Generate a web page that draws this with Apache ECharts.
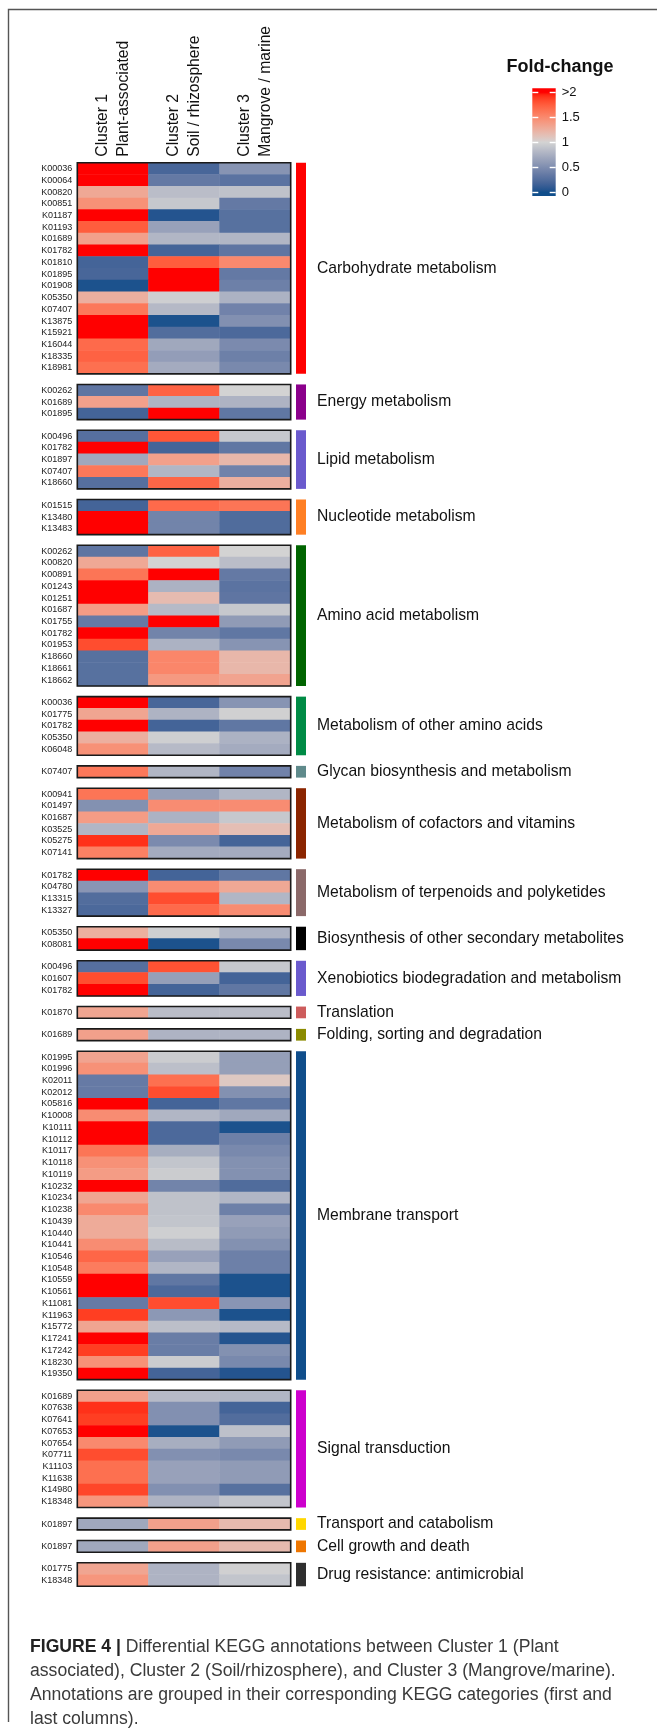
<!DOCTYPE html>
<html>
<head>
	<meta charset="UTF-8">
	<title>KEGG fold-change heatmap</title>
	<script src="https://cdn.jsdelivr.net/npm/echarts@6/dist/echarts.min.js"></script>
	<style>
		html, body { margin: 0; padding: 0; background: #fff; }
		#main { width: 657px; height: 1731px; }
	</style>
</head>
<body>
<div id="main"></div>
<script>
	// column headers (clusters)
	var clusterLabels = ['Cluster 1\nPlant-associated', 'Cluster 2\nSoil / rhizosphere', 'Cluster 3\nMangrove / marine'];

	// KEGG categories (right annotation)
	var categoryNames = [
		'Carbohydrate metabolism', 'Energy metabolism', 'Lipid metabolism', 'Nucleotide metabolism',
		'Amino acid metabolism', 'Metabolism of other amino acids', 'Glycan biosynthesis and metabolism',
		'Metabolism of cofactors and vitamins', 'Metabolism of terpenoids and polyketides',
		'Biosynthesis of other secondary metabolites', 'Xenobiotics biodegradation and metabolism',
		'Translation', 'Folding, sorting and degradation', 'Membrane transport', 'Signal transduction',
		'Transport and catabolism', 'Cell growth and death', 'Drug resistance: antimicrobial'
	];
	var categoryColors = [
		'#FF0000', '#8B008B', '#6A5ACD', '#FF7F24', '#006400', '#008B45', '#5F8A8B', '#8B2500', '#8B6969',
		'#000000', '#6A5ACD', '#CD5C5C', '#8B8B00', '#104E8B', '#CD00CD', '#FFD700', '#EE7600', '#2F2F2F'
	];

	// fold-change per KO: [cluster1, cluster2, cluster3], values >2 shown as 2
	var carbIds = ['K00036','K00064','K00820','K00851','K01187','K01193','K01689','K01782','K01810','K01895','K01908','K05350','K07407','K13875','K15921','K16044','K18335','K18981'];
	var carbFc = [[2,0.2,0.55],[2,0.35,0.3],[1.3,0.85,0.88],[1.45,0.92,0.35],[2,0.05,0.28],[1.75,0.65,0.28],[1.35,0.8,0.8],[2,0.18,0.32],[0.18,1.75,1.5],[0.2,2,0.35],[0.03,2,0.4],[1.25,0.97,0.77],[1.6,0.82,0.42],[2,0.03,0.52],[2,0.25,0.22],[1.68,0.7,0.48],[1.72,0.62,0.4],[1.65,0.72,0.47]];

	var energyIds = ['K00262','K01689','K01895'];
	var energyFc = [[0.32,1.72,1.0],[1.35,0.78,0.78],[0.18,2,0.33]];

	var lipidIds = ['K00496','K01782','K01897','K07407','K18660'];
	var lipidFc = [[0.27,1.78,0.92],[2,0.18,0.33],[0.7,1.35,1.2],[1.6,0.8,0.42],[0.27,1.7,1.25]];

	var nucleoIds = ['K01515','K13480','K13483'];
	var nucleoFc = [[0.18,1.68,1.62],[2,0.43,0.24],[2,0.43,0.24]];

	var aminoIds = ['K00262','K00820','K00891','K01243','K01251','K01687','K01755','K01782','K01953','K18660','K18661','K18662'];
	var aminoFc = [[0.32,1.72,1.0],[1.3,1.0,0.85],[1.62,2,0.35],[2,0.77,0.3],[2,1.17,0.32],[1.38,0.83,0.92],[0.36,2,0.6],[2,0.43,0.33],[1.82,0.77,0.55],[0.28,1.52,1.2],[0.28,1.52,1.2],[0.28,1.4,1.33]];

	var otherAminoIds = ['K00036','K01775','K01782','K05350','K06048'];
	var otherAminoFc = [[2,0.2,0.55],[1.32,0.78,0.98],[2,0.18,0.33],[1.25,0.97,0.77],[1.45,0.83,0.72]];

	var glycanIds = ['K07407'];
	var glycanFc = [[1.6,0.8,0.42]];

	var cofactorIds = ['K00941','K01497','K01687','K03525','K05275','K07141'];
	var cofactorFc = [[1.62,0.63,0.8],[0.53,1.48,1.48],[1.38,0.77,0.92],[0.8,1.3,1.15],[1.92,0.48,0.18],[1.55,0.72,0.72]];

	var terpenoidIds = ['K01782','K04780','K13315','K13327'];
	var terpenoidFc = [[2,0.18,0.33],[0.56,1.48,1.3],[0.25,1.82,0.8],[0.22,1.68,1.48]];

	var secondaryIds = ['K05350','K08081'];
	var secondaryFc = [[1.25,0.97,0.77],[2,0.03,0.47]];

	var xenoIds = ['K00496','K01607','K01782'];
	var xenoFc = [[0.27,1.8,0.92],[1.82,0.63,0.18],[2,0.18,0.33]];

	var translationIds = ['K01870'];
	var translationFc = [[1.32,0.85,0.85]];

	var foldingIds = ['K01689'];
	var foldingFc = [[1.35,0.78,0.78]];

	var membraneIds = ['K01995','K01996','K02011','K02012','K05816','K10008','K10111','K10112','K10117','K10118','K10119','K10232','K10234','K10238','K10439','K10440','K10441','K10546','K10548','K10559','K10561','K11081','K11963','K15772','K17241','K17242','K18230','K19350'];
	var membraneFc = [[1.33,0.95,0.63],[1.45,0.86,0.63],[0.36,1.65,1.08],[0.36,1.82,0.53],[2,0.18,0.33],[1.48,0.8,0.7],[2,0.22,0.03],[2,0.22,0.4],[1.62,0.74,0.47],[1.45,0.9,0.53],[1.38,0.95,0.53],[2,0.43,0.24],[1.32,0.88,0.8],[1.5,0.88,0.4],[1.28,0.9,0.65],[1.28,0.97,0.6],[1.48,0.84,0.53],[1.7,0.65,0.4],[1.58,0.8,0.4],[2,0.33,0.03],[2,0.22,0.03],[0.36,1.82,0.56],[1.88,0.58,0.03],[1.32,0.86,0.83],[2,0.38,0.05],[1.88,0.38,0.53],[1.45,0.95,0.47],[2,0.18,0.05]];

	var signalIds = ['K01689','K07638','K07641','K07653','K07654','K07711','K11103','K11638','K14980','K18348'];
	var signalFc = [[1.35,0.83,0.8],[1.92,0.52,0.18],[1.88,0.52,0.25],[2,0.03,0.87],[1.5,0.74,0.6],[1.82,0.52,0.47],[1.65,0.65,0.6],[1.65,0.65,0.6],[1.85,0.52,0.28],[1.42,0.78,0.9]];

	var catabolismIds = ['K01897'];
	var catabolismFc = [[0.7,1.35,1.18]];

	var cellGrowthIds = ['K01897'];
	var cellGrowthFc = [[0.7,1.35,1.18]];

	var drugIds = ['K01775','K18348'];
	var drugFc = [[1.32,0.78,0.98],[1.42,0.78,0.9]];

	var blockIds = [carbIds, energyIds, lipidIds, nucleoIds, aminoIds, otherAminoIds, glycanIds, cofactorIds, terpenoidIds, secondaryIds, xenoIds, translationIds, foldingIds, membraneIds, signalIds, catabolismIds, cellGrowthIds, drugIds];
	var blockFc = [carbFc, energyFc, lipidFc, nucleoFc, aminoFc, otherAminoFc, glycanFc, cofactorFc, terpenoidFc, secondaryFc, xenoFc, translationFc, foldingFc, membraneFc, signalFc, catabolismFc, cellGrowthFc, drugFc];

	// legend
	var legendTicks = [0, 0.5, 1, 1.5, 2];
	var legendTickLabels = ['0', '0.5', '1', '1.5', '>2'];

	// colour ramp 0 -> 1 -> 2, interpolated in LAB like colorRamp2
	var rampBreaks = [0, 1, 2];
	var rampColors = ['#104E8B', '#D3D3D3', '#FF0000'];

	function toLin(c){ c = c / 255; return c <= 0.04045 ? c / 12.92 : Math.pow((c + 0.055) / 1.055, 2.4); }
	function toSrgb(c){ var v = c <= 0.0031308 ? 12.92 * c : 1.055 * Math.pow(c, 1 / 2.4) - 0.055; return Math.round(Math.max(0, Math.min(1, v)) * 255); }
	function hexToLab(hex){
		var r = toLin(parseInt(hex.substr(1,2),16)), g = toLin(parseInt(hex.substr(3,2),16)), b = toLin(parseInt(hex.substr(5,2),16));
		var x = (0.4124*r + 0.3576*g + 0.1805*b) / 0.95047;
		var y = (0.2126*r + 0.7152*g + 0.0722*b);
		var z = (0.0193*r + 0.1192*g + 0.9505*b) / 1.08883;
		var f = function(t){ return t > 0.008856 ? Math.cbrt(t) : 7.787*t + 16/116; };
		var fx = f(x), fy = f(y), fz = f(z);
		return [116*fy - 16, 500*(fx - fy), 200*(fy - fz)];
	}
	function labToHex(lab){
		var fy = (lab[0] + 16) / 116, fx = fy + lab[1] / 500, fz = fy - lab[2] / 200;
		var inv = function(t){ var t3 = t*t*t; return t3 > 0.008856 ? t3 : (t - 16/116) / 7.787; };
		var x = 0.95047*inv(fx), y = inv(fy), z = 1.08883*inv(fz);
		var r = 3.2406*x - 1.5372*y - 0.4986*z;
		var g = -0.9689*x + 1.8758*y + 0.0415*z;
		var b = 0.0557*x - 0.2040*y + 1.0570*z;
		var h = function(v){ var s = toSrgb(v).toString(16); return s.length < 2 ? '0' + s : s; };
		return '#' + h(r) + h(g) + h(b);
	}
	function rampColor(v){
		v = Math.max(rampBreaks[0], Math.min(rampBreaks[2], v));
		var k = v <= rampBreaks[1] ? 0 : 1;
		var t = (v - rampBreaks[k]) / (rampBreaks[k+1] - rampBreaks[k]);
		var a = hexToLab(rampColors[k]), b = hexToLab(rampColors[k+1]);
		return labToHex([a[0] + (b[0]-a[0])*t, a[1] + (b[1]-a[1])*t, a[2] + (b[2]-a[2])*t]);
	}
	var rampStops = [];
	for (var s = 0; s <= 40; s++) rampStops.push(rampColor(s * 0.05));

	// layout
	var heatLeft = 77.3, heatWidth = 213.4, firstTop = 162.7, rowH = 11.73, blockGap = 10.6;
	var annoLeft = 296, annoWidth = 10;
	var labelFont = 15.7;

	var grids = [], xAxes = [], yAxes = [], series = [], heatIdx = [];
	var cursor = firstTop;
	for (var i = 0; i < blockIds.length; i++) {
		var ids = blockIds[i], fc = blockFc[i];
		var h = ids.length * rowH;
		var data = [];
		for (var r = 0; r < ids.length; r++)
			for (var c = 0; c < 3; c++) data.push([c, r, Math.min(2, fc[r][c])]);

		// heatmap block
		grids.push({left: heatLeft, top: cursor, width: heatWidth, height: h, show: true,
			backgroundColor: 'transparent', borderColor: '#1a1a1a', borderWidth: 1.6, z: 5});
		xAxes.push({gridIndex: grids.length - 1, type: 'category', data: clusterLabels, position: 'top',
			show: i === 0, axisLine: {show: false}, axisTick: {show: false}, splitLine: {show: false},
			axisLabel: {rotate: -90, interval: 0, fontSize: labelFont, lineHeight: 21, margin: 6, color: '#111'}});
		yAxes.push({gridIndex: grids.length - 1, type: 'category', data: ids, inverse: true,
			axisLine: {show: false}, axisTick: {show: false}, splitLine: {show: false},
			axisLabel: {interval: 0, fontSize: 9, margin: 5, color: '#222'}});
		heatIdx.push(series.length);
		series.push({type: 'heatmap', xAxisIndex: xAxes.length - 1, yAxisIndex: yAxes.length - 1,
			data: data, itemStyle: {borderWidth: 0}, emphasis: {disabled: true}});

		// category annotation bar + name
		grids.push({left: annoLeft, top: cursor, width: annoWidth, height: h});
		xAxes.push({gridIndex: grids.length - 1, type: 'value', min: 0, max: 1, show: false});
		yAxes.push({gridIndex: grids.length - 1, type: 'category', data: [categoryNames[i]], show: false});
		series.push({type: 'bar', xAxisIndex: xAxes.length - 1, yAxisIndex: yAxes.length - 1,
			data: [1], barWidth: '100%', silent: true,
			itemStyle: {color: categoryColors[i]},
			label: {show: true, position: 'right', distance: 11, formatter: '{b}', fontSize: labelFont, color: '#111'}});

		cursor += h + blockGap;
	}

	// legend colour bar
	var legMin = -0.074, legMax = 2.08;
	grids.push({left: 532.3, top: 88.3, width: 23.4, height: 107.7});
	var legGrid = grids.length - 1;
	xAxes.push({gridIndex: legGrid, type: 'category', data: ['fc'], show: false});
	var legX = xAxes.length - 1;
	yAxes.push({gridIndex: legGrid, type: 'value', min: legMin, max: legMax, position: 'right', z: 10,
		axisLine: {show: false}, splitLine: {show: false},
		axisTick: {show: true, inside: true, length: 6, customValues: legendTicks, lineStyle: {color: '#fff', width: 1.4}},
		axisLabel: {customValues: legendTicks, margin: 6, fontSize: 13, color: '#111',
			formatter: function(v){ return legendTickLabels[legendTicks.indexOf(v)]; }}});
	var legY = yAxes.length - 1;
	yAxes.push({gridIndex: legGrid, type: 'value', min: legMin, max: legMax, position: 'left', z: 10,
		axisLine: {show: false}, splitLine: {show: false}, axisLabel: {show: false},
		axisTick: {show: true, inside: true, length: 6, customValues: legendTicks, lineStyle: {color: '#fff', width: 1.4}}});

	var gradStops = rampStops.map(function(col, k){
		return {offset: (k * 0.05 - legMin) / (legMax - legMin), color: col};
	});
	gradStops.unshift({offset: 0, color: rampStops[0]});
	gradStops.push({offset: 1, color: rampStops[rampStops.length - 1]});
	series.push({type: 'custom', xAxisIndex: legX, yAxisIndex: legY, silent: true, data: [[0, 1]],
		renderItem: function(params, api){
			var top = api.coord([0, legMax]), bot = api.coord([0, legMin]);
			var cs = params.coordSys;
			return {type: 'rect', shape: {x: cs.x, y: top[1], width: cs.width, height: bot[1] - top[1]},
				style: {fill: new echarts.graphic.LinearGradient(0, 1, 0, 0, gradStops)}};
		}});

	var caption = '{b|FIGURE 4 |} Differential KEGG annotations between Cluster 1 (Plant\n' +
		'associated), Cluster 2 (Soil/rhizosphere), and Cluster 3 (Mangrove/marine).\n' +
		'Annotations are grouped in their corresponding KEGG categories (first and\n' +
		'last columns).';

	var myChart = echarts.init(document.getElementById('main'));
	myChart.setOption({
		animation: false,
		backgroundColor: '#fff',
		textStyle: {fontFamily: 'Liberation Sans, Arial, sans-serif'},
		title: {
			text: caption, left: 25, top: 1630,
			textStyle: {fontSize: 17.6, fontWeight: 'normal', color: '#3a3a3a', lineHeight: 24,
				rich: {b: {fontSize: 17.6, fontWeight: 'bold', color: '#222', lineHeight: 24}}}
		},
		graphic: [
			{type: 'polyline', silent: true, shape: {points: [[8.5, 1722], [8.5, 9.5], [660, 9.5]]},
				style: {stroke: '#555', lineWidth: 1.4, fill: null}},
			{type: 'text', silent: true, x: 560, y: 67,
				style: {text: 'Fold-change', fontSize: 18, fontWeight: 'bold', fill: '#111',
					align: 'center', verticalAlign: 'middle', fontFamily: 'Liberation Sans, Arial, sans-serif'}}
		],
		visualMap: {type: 'continuous', show: false, min: 0, max: 2, seriesIndex: heatIdx,
			inRange: {color: rampStops}},
		grid: grids,
		xAxis: xAxes,
		yAxis: yAxes,
		series: series
	});
</script>
</body>
</html>
